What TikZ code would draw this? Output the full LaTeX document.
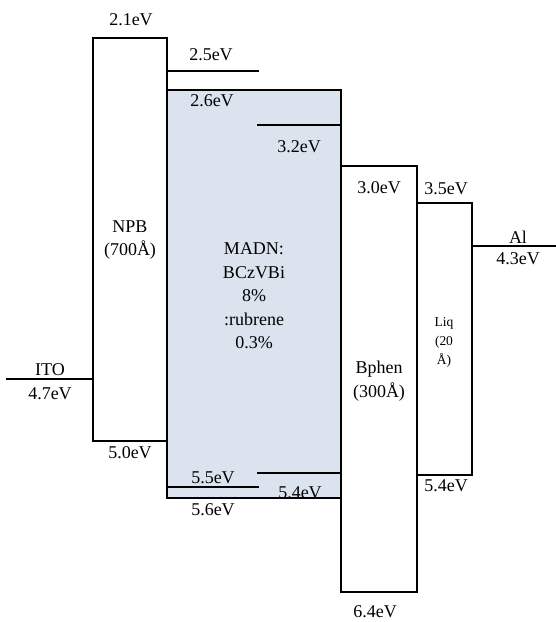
\documentclass[tikz,border=0pt]{standalone}
\usepackage{fontspec}
\setmainfont{Liberation Serif}
\definecolor{emlfill}{RGB}{219,227,239}
\begin{document}
\begin{tikzpicture}[x=1pt,y=-1pt,
  lvl/.style={line width=1.6pt,line cap=rect},
  box/.style={line width=1.6pt},
  lbl/.style={inner sep=0pt,font=\fontsize{18}{23.5}\selectfont,align=center},
  smalllbl/.style={inner sep=0pt,font=\fontsize{13.5}{19}\selectfont,align=center}]
\useasboundingbox[fill=white] (0,0) rectangle (555,622);
% MADN emitting layer
\path[fill=emlfill] (167,90) rectangle (341,498);
\draw[box] (167,90) coordinate (madnTL) -- (341,90) -- (341,498) coordinate (madnBR) -- (167,498) -- cycle;
% NPB
\draw[box] (93,38) coordinate (npbTL) rectangle (167,441) coordinate (npbBR);
% Bphen
\draw[box] (341,166) coordinate (bphTL) rectangle (417,592) coordinate (bphBR);
% Liq
\draw[box] (417,203) coordinate (liqTL) rectangle (472,475) coordinate (liqBR);
% level lines
\coordinate (a1) at (167,71); \coordinate (a2) at (258,71);
\draw[lvl] (a1) -- (a2);
\coordinate (b1) at (258,125); \coordinate (b2) at (341,125);
\draw[lvl] (b1) -- (b2);
\coordinate (c1) at (167,487); \coordinate (c2) at (258,487);
\draw[lvl] (c1) -- (c2);
\coordinate (d1) at (258,473); \coordinate (d2) at (341,473);
\draw[lvl] (d1) -- (d2);
\coordinate (al1) at (472,246); \coordinate (al2) at (555,246);
\draw[lvl] (al1) -- (al2);
\coordinate (ito1) at (7,379); \coordinate (ito2) at (93,379);
\draw[lvl] (ito1) -- (ito2);
% labels
\node[lbl] (l21) at (131,20) {2.1eV};
\node[lbl] (l25) at (211,55) {2.5eV};
\node[lbl] (l26) at (212,101) {2.6eV};
\node[lbl] (l32) at (299,147) {3.2eV};
\node[lbl] (l30) at (379,188) {3.0eV};
\node[lbl] (l35) at (446,189) {3.5eV};
\node[lbl] (lal) at (518,237) {Al};
\node[lbl] (l43) at (518,259) {4.3eV};
\node[lbl] (lito) at (50,370) {ITO};
\node[lbl] (l47) at (50,394) {4.7eV};
\node[lbl] (l50) at (130,453) {5.0eV};
\node[lbl] (l55) at (213,478) {5.5eV};
\node[lbl] (l56) at (213,510) {5.6eV};
\node[lbl] (l54a) at (300,493) {5.4eV};
\node[lbl] (l54b) at (446,486) {5.4eV};
\node[lbl] (l64) at (375,612) {6.4eV};
\node[lbl] (npb) at (130,240) {NPB\\(700Å)};
\node[lbl] (madn) at (254,296) {MADN:\\BCzVBi\\8\%\\:rubrene\\0.3\%};
\node[lbl] (bphen) at (379,381) {Bphen\\(300Å)};
\node[smalllbl] (liq) at (444,342) {Liq\\(20\\Å)};
\end{tikzpicture}
\end{document}
